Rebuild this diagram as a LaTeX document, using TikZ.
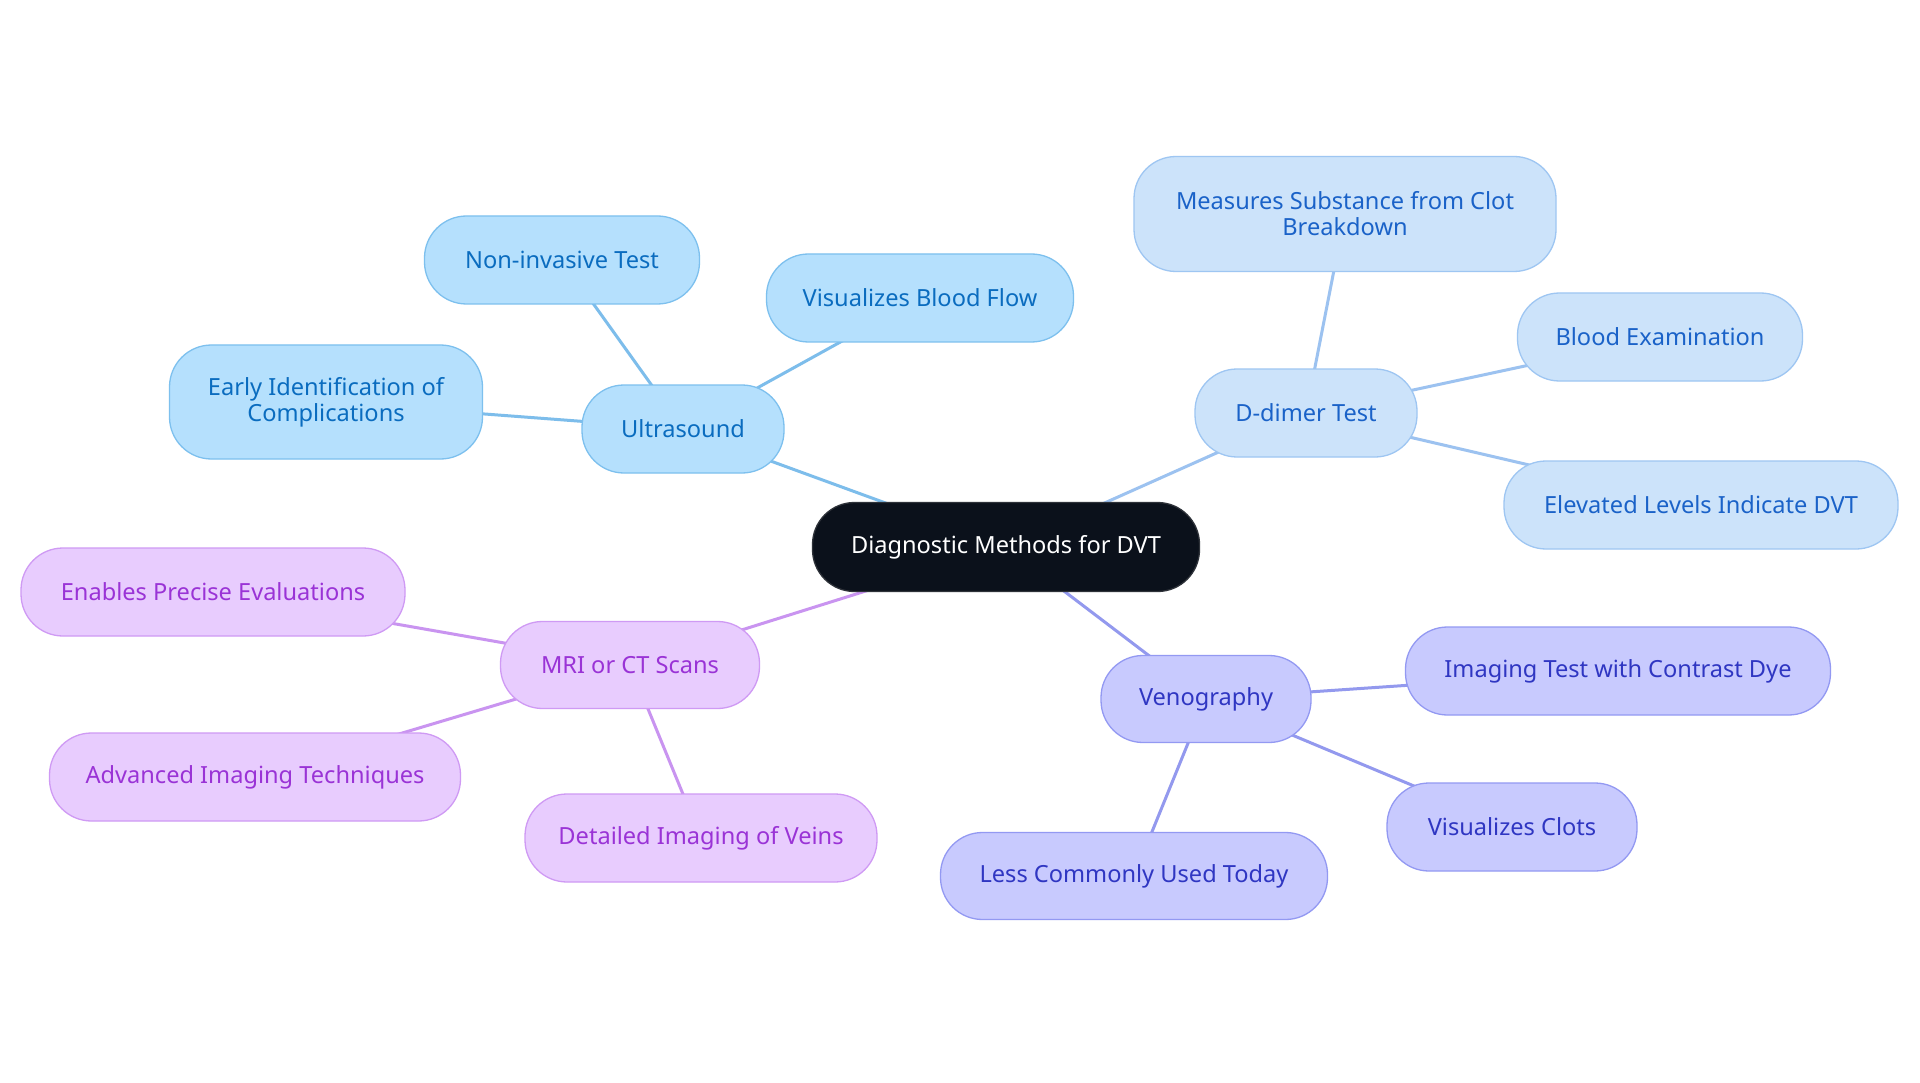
\documentclass[tikz,border=0pt]{standalone}
\usepackage{fontspec}
\setmainfont{Noto Sans}
\usetikzlibrary{backgrounds}
\definecolor{usFill}{HTML}{B5E0FD}
\definecolor{usDraw}{HTML}{7DC0EE}
\definecolor{usText}{HTML}{0A6CBF}
\definecolor{usLine}{HTML}{7DBDEB}
\definecolor{ddFill}{HTML}{CCE3FA}
\definecolor{ddDraw}{HTML}{9EC6F2}
\definecolor{ddText}{HTML}{1A62C8}
\definecolor{ddLine}{HTML}{9CC2F0}
\definecolor{mrFill}{HTML}{E8CCFE}
\definecolor{mrDraw}{HTML}{CF9AF4}
\definecolor{mrText}{HTML}{9A33D6}
\definecolor{mrLine}{HTML}{C994F0}
\definecolor{veFill}{HTML}{C8CAFE}
\definecolor{veDraw}{HTML}{9399F2}
\definecolor{veText}{HTML}{2F36C2}
\definecolor{veLine}{HTML}{9399EE}
\definecolor{rootFill}{HTML}{0B111B}
\begin{document}
\begin{tikzpicture}[x=1pt,y=-1pt,
  box/.style={rectangle, rounded corners=42pt, line width=1.3pt, inner sep=0pt, align=center,
    font=\fontsize{23.6}{26}\selectfont},
  us/.style={box, fill=usFill, draw=usDraw, text=usText},
  dd/.style={box, fill=ddFill, draw=ddDraw, text=ddText},
  mr/.style={box, fill=mrFill, draw=mrDraw, text=mrText},
  ve/.style={box, fill=veFill, draw=veDraw, text=veText},
  root/.style={box, fill=rootFill, draw=rootFill!70!gray, text=white},
  link/.style={line width=3pt}
]
\useasboundingbox (0,0) rectangle (1920,1083);

\node[root, minimum width=387pt, minimum height=89pt] (root) at (1006,547) {Diagnostic Methods for DVT};

\node[us, minimum width=202pt, minimum height=88pt] (us) at (683,429) {Ultrasound};
\node[us, minimum width=275pt, minimum height=88pt] (us1) at (562,260) {Non-invasive Test};
\node[us, minimum width=307pt, minimum height=88pt] (us2) at (920,298) {Visualizes Blood Flow};
\node[us, minimum width=313pt, minimum height=114pt] (us3) at (326,402) {Early Identification of\\Complications};

\node[dd, minimum width=222pt, minimum height=88pt] (dd) at (1306,413) {D-dimer Test};
\node[dd, minimum width=422pt, minimum height=115pt] (dd1) at (1345,214) {Measures Substance from Clot\\Breakdown};
\node[dd, minimum width=285pt, minimum height=88pt] (dd2) at (1660,337) {Blood Examination};
\node[dd, minimum width=394pt, minimum height=88pt] (dd3) at (1701,505) {Elevated Levels Indicate DVT};

\node[mr, minimum width=259pt, minimum height=87pt] (mr) at (630,665) {MRI or CT Scans};
\node[mr, minimum width=384pt, minimum height=88pt] (mr1) at (213,592) {Enables Precise Evaluations};
\node[mr, minimum width=411pt, minimum height=88pt] (mr2) at (255,777) {Advanced Imaging Techniques};
\node[mr, minimum width=352pt, minimum height=88pt] (mr3) at (701,838) {Detailed Imaging of Veins};

\node[ve, minimum width=210pt, minimum height=87pt] (ve) at (1206,699) {Venography};
\node[ve, minimum width=425pt, minimum height=88pt] (ve1) at (1618,671) {Imaging Test with Contrast Dye};
\node[ve, minimum width=250pt, minimum height=88pt] (ve2) at (1512,827) {Visualizes Clots};
\node[ve, minimum width=387pt, minimum height=87pt] (ve3) at (1134,876) {Less Commonly Used Today};

\begin{pgfonlayer}{background}
\fill[white] (0,0) rectangle (1920,1083);
\draw[link, usLine] (root.center) -- (us.center);
\draw[link, usLine] (us.center) -- (us1.center);
\draw[link, usLine] (us.center) -- (us2.center);
\draw[link, usLine] (us.center) -- (us3.center);
\draw[link, ddLine] (root.center) -- (dd.center);
\draw[link, ddLine] (dd.center) -- (dd1.center);
\draw[link, ddLine] (dd.center) -- (dd2.center);
\draw[link, ddLine] (dd.center) -- (dd3.center);
\draw[link, mrLine] (root.center) -- (mr.center);
\draw[link, mrLine] (mr.center) -- (mr1.center);
\draw[link, mrLine] (mr.center) -- (mr2.center);
\draw[link, mrLine] (mr.center) -- (mr3.center);
\draw[link, veLine] (root.center) -- (ve.center);
\draw[link, veLine] (ve.center) -- (ve1.center);
\draw[link, veLine] (ve.center) -- (ve2.center);
\draw[link, veLine] (ve.center) -- (ve3.center);
\end{pgfonlayer}
\end{tikzpicture}
\end{document}
